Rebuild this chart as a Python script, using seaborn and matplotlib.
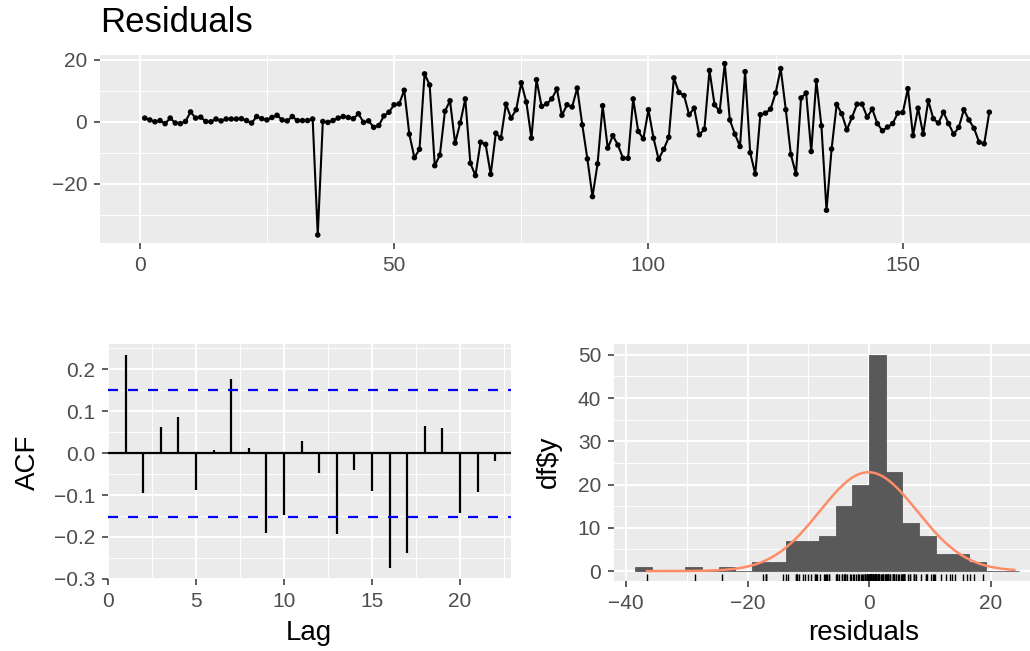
import numpy as np
import pandas as pd
import matplotlib
matplotlib.use("Agg")
import matplotlib.pyplot as plt
import seaborn as sns

# ---------------- data ----------------
residuals = [
    1.2, 0.6, 0.0, 0.4, -0.6, 1.2, -0.4, -0.6, 0.1, 3.2, 1.2, 1.5, 0.1, 0.0, 0.9, 0.3, 0.9,
    0.9, 0.9, 1.0, 0.4, -0.4, 1.7, 1.0, 0.6, 1.4, 2.1, 0.6, 0.3, 1.7, 0.4, 0.4, 0.4, 0.9,
    -36.6,
    0.1, -0.2, 0.4, 1.2, 1.7, 1.4, 1.0, 2.6, -0.2, 0.3, -1.8, -1.2, 1.9, 3.1, 5.5, 5.8, 10.2,
    -4.0, -11.6, -8.9, 15.5, 11.9, -14.2, -10.8, 3.4, 6.8, -6.9, -0.4, 7.4, -13.4, -17.4,
    -6.6, -7.3, -17.0, -3.7,
    -5.3, 5.7, 1.2, 3.9, 12.6, 6.4, -5.3, 13.6, 5.0, 5.8, 7.4, 10.6, 2.1, 5.5, 4.8, 10.9,
    -1.0, -12.0, -24.2, -13.6, 5.2, -8.5, -4.5, -7.5, -11.8, -11.8, 7.4, -3.1, -5.5, 3.9,
    -5.3, -12.1, -8.9,
    -5.0, 14.2, 9.5, 8.5, 2.3, 4.4, -4.2, -2.4, 16.6, 5.5, 3.4, 18.8, 0.6, -4.0, -8.0, 16.2,
    -10.0, -16.9, 2.3, 2.8, 4.1, 9.3, 17.2, 3.9, -10.6, -16.9, 7.7, 9.3, -9.6, 13.3, -1.3,
    -28.6, -8.8, 5.6,
    2.6, -2.6, 1.4, 5.7, 5.7, 1.5, 4.1, -0.6, -2.9, -1.7, -0.6, 2.8, 3.0, 10.7, -4.5, 4.4,
    -4.0, 6.8, 1.0, -0.4, 3.1, -0.6, -4.0, -1.8, 3.9, 0.6, -2.1, -6.6, -7.1, 3.1,
]
time_index = list(range(1, len(residuals) + 1))

acf_lags = list(range(1, 23))
acf_values = [0.234, -0.096, 0.063, 0.087, -0.087, 0.007, 0.176, 0.013, -0.191, -0.147,
              0.030, -0.048, -0.194, -0.040, -0.091, -0.275, -0.239, 0.065, 0.061, -0.142,
              -0.092, -0.019]
acf_ci = 0.1517

hist_binwidth = 2.75
hist_edges = [-38.5 + hist_binwidth * k for k in range(24)]
hist_counts = [1, 0, 0, 1, 0, 1, 0, 2, 2, 7, 7, 8, 15, 20, 50, 23, 11, 8, 4, 4, 2, 0, 0]

# ---------------- style ----------------
sns.set_theme(style="darkgrid")
plt.rcParams.update({
    "axes.facecolor": "#EBEBEB",
    "grid.color": "white",
    "axes.edgecolor": "#EBEBEB",
    "axes.linewidth": 0,
    "xtick.color": "#333333",
    "ytick.color": "#333333",
    "xtick.labelcolor": "#4D4D4D",
    "ytick.labelcolor": "#4D4D4D",
    "xtick.bottom": True,
    "ytick.left": True,
    "xtick.major.size": 4.2,
    "ytick.major.size": 4.2,
    "xtick.major.width": 1.1,
    "ytick.major.width": 1.1,
    "xtick.major.pad": 5.5,
    "ytick.major.pad": 5.0,
    "xtick.labelsize": 15,
    "ytick.labelsize": 15,
    "axes.unicode_minus": True,
})
plt.rcParams["font.family"] = ["Liberation Sans", "DejaVu Sans"]

W, H = 1030, 651
fig = plt.figure(figsize=(W / 100, H / 100), dpi=100)
LABEL_SIZE = 20


def px_axes(left, top, right, bottom):
    return fig.add_axes([left / W, 1 - bottom / H, (right - left) / W, (bottom - top) / H])


def px_text(x, y, s, **kw):
    fig.text(x / W, 1 - y / H, s, ha="center", va="center", color="black", **kw)


def gg_grid(ax, xmajor, xminor, ymajor, yminor):
    ax.set_xticks(xmajor)
    ax.set_xticks(xminor, minor=True)
    ax.set_yticks(ymajor)
    ax.set_yticks(yminor, minor=True)
    ax.grid(which="major", color="white", lw=1.4)
    ax.grid(which="minor", color="white", lw=0.7)
    ax.tick_params(which="minor", length=0)
    ax.set_axisbelow(True)
    for s in ax.spines.values():
        s.set_visible(False)
    ax.set_xlabel("")
    ax.set_ylabel("")


# ---------------- top: residual series ----------------
ax1 = px_axes(100, 55, 1030, 243)
df_ts = pd.DataFrame({"t": time_index, "r": residuals})
sns.lineplot(data=df_ts, x="t", y="r", ax=ax1, color="black", lw=1.5)
sns.scatterplot(data=df_ts, x="t", y="r", ax=ax1, color="black", s=16, edgecolor="none")
ax1.set_xlim(-7.8, 173.6)
ax1.set_ylim(-39.2, 21.6)
gg_grid(ax1, [0, 50, 100, 150], [25, 75, 125, 175], [-20, 0, 20], [-30, -10, 10])
fig.text(100 / W, 1 - 22 / H, "Residuals", fontsize=25, va="center", ha="left", color="black")

# ---------------- bottom left: ACF ----------------
ax2 = px_axes(108, 344, 511, 579)
ax2.vlines(acf_lags, 0, acf_values, color="black", lw=1.6)
ax2.axhline(0, color="black", lw=1.6)
for c in (acf_ci, -acf_ci):
    ax2.axhline(c, color="#0000FF", lw=1.6, ls=(0, (4.5, 4.5)))
ax2.set_xlim(0, 22.9)
ax2.set_ylim(-0.3005, 0.2605)
gg_grid(ax2, [0, 5, 10, 15, 20], [2.5, 7.5, 12.5, 17.5, 22.5],
        [-0.3, -0.2, -0.1, 0.0, 0.1, 0.2], [-0.25, -0.15, -0.05, 0.05, 0.15, 0.25])
ax2.set_yticklabels(["\u22120.3", "\u22120.2", "\u22120.1", "0.0", "0.1", "0.2"])
px_text(309, 633, "Lag", fontsize=LABEL_SIZE)
px_text(28, 462, "ACF", fontsize=LABEL_SIZE, rotation=90)

# ---------------- bottom right: histogram ----------------
ax3 = px_axes(614, 344, 1030, 581)
centers = [(hist_edges[i] + hist_edges[i + 1]) / 2 for i in range(len(hist_counts))]
sns.histplot(x=centers, weights=hist_counts, bins=hist_edges, ax=ax3,
             color="#595959", alpha=1, edgecolor="#595959", linewidth=0.6, stat="count")
r = np.array(residuals)
mu, sd = r.mean(), r.std(ddof=1)
xs = np.linspace(r.min(), mu + 3 * sd, 512)
ys = len(r) * hist_binwidth * np.exp(-0.5 * ((xs - mu) / sd) ** 2) / (sd * np.sqrt(2 * np.pi))
sns.lineplot(x=xs, y=ys, ax=ax3, color="#FF8C69", lw=1.8)
sns.rugplot(x=residuals, ax=ax3, height=0.03, color="black", lw=1.1, expand_margins=False)
ax3.set_xlim(-42.0, 26.5)
ax3.set_ylim(-2.3, 52.5)
gg_grid(ax3, [-40, -20, 0, 20], [-30, -10, 10], [0, 10, 20, 30, 40, 50], [5, 15, 25, 35, 45])
px_text(864, 633, "residuals", fontsize=LABEL_SIZE)
px_text(549, 462, "df$y", fontsize=LABEL_SIZE, rotation=90)

fig.savefig("out.png", dpi=100)
